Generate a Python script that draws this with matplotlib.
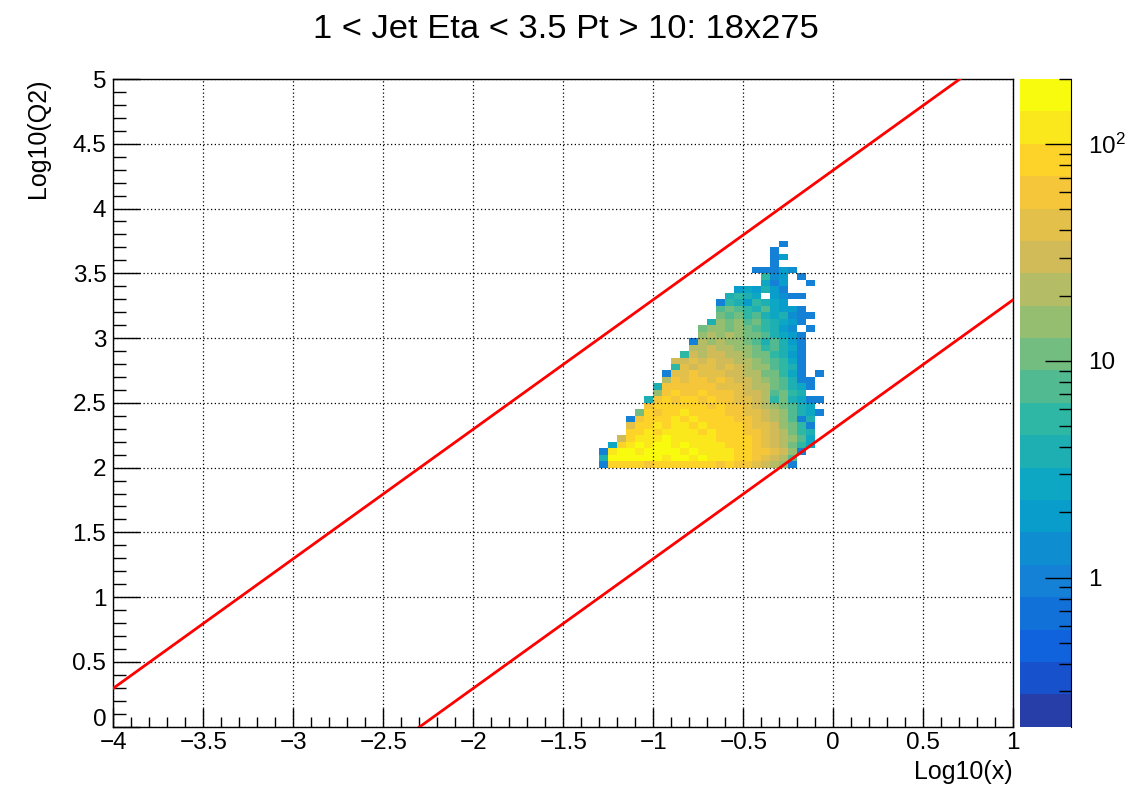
import numpy as np
import matplotlib
matplotlib.use('Agg')
import matplotlib.pyplot as plt
from matplotlib.colors import ListedColormap, LinearSegmentedColormap, LogNorm
from matplotlib.ticker import MultipleLocator, FuncFormatter, LogLocator, NullFormatter, FixedLocator

plt.rcParams['font.family'] = ['Liberation Sans', 'DejaVu Sans']
plt.rcParams['mathtext.default'] = 'regular'

# beam energies (GeV) and inelasticity limits drawn as red lines
e_electron = 18
e_proton = 275
y_limits = [1.0, 0.01]

# histogram binning: log10(x) vs log10(Q2)
x_lo, x_hi, nx = -4.0, 1.0, 100
q_lo, q_hi, nq = 0.0, 5.0, 100

# filled block starts at log10(x) = -1.3 (bin 54), log10(Q2) = 2.0 (bin 40)
first_col = 54
first_row = 40

# z range of the colour axis and number of contour bands
z_min, z_max = 0.205, 200.0
n_bands = 20

# band index per bin, top row first ('.' = empty, 0-9 a-j = band 0..19)
band_rows = [
    "....................4....",
    "...................4.....",
    "...................46....",
    "...................4.....",
    ".................44465...",
    "..................956.4..",
    "..................746..4.",
    "...............676864....",
    "..............8987.6544..",
    ".............49869876....",
    ".............aba98a7664..",
    ".............bab9a878544.",
    "............8cbcab98764..",
    "...........bccbcba9865.4.",
    "...........cdcdcbba8764..",
    "..........4dcdccba8a864..",
    "..........ddeddccb9a874..",
    ".........9edeeddcbb9864..",
    "........eefefeeddcba974..",
    "........9feffefedcca984..",
    ".......4ffgfffeeddbb974.4",
    ".......dgfggfgfeedcba844.",
    "......8ggggggfffeddba874.",
    "......cghgghgggfeedab98..",
    ".....8ghghhghggffed9b8744",
    ".....ghhhhhhghggfedcba87.",
    "....bhghhihhhhggffedca874",
    "...4ghhhihihhhhggfedca48.",
    "...fhhihiihihhhhgffecb94.",
    "...hhihiiiihihhhggfedb98.",
    "..ehiiijiiiiihhhhgfedca7.",
    ".7hijijjijiiiihhhgfedb97.",
    "4ijjijjjjijiiiihhggfec4..",
    "8jjjjjjijjijiiihhgfeda...",
    "4hhhhghhhhhhhghggfedc4...",
]

title = "1 < Jet Eta < 3.5 Pt > 10: 18x275"
x_title = "Log10(x)"
y_title = "Log10(Q2)"

# ROOT kBird palette
stops = [0.0, 0.125, 0.25, 0.375, 0.5, 0.625, 0.75, 0.875, 1.0]
red = [0.2082, 0.0592, 0.0780, 0.0232, 0.1802, 0.5301, 0.8186, 0.9956, 0.9764]
green = [0.1664, 0.3599, 0.5041, 0.6419, 0.7178, 0.7492, 0.7328, 0.7862, 0.9832]
blue = [0.5293, 0.8684, 0.8385, 0.7914, 0.6425, 0.4662, 0.3499, 0.1968, 0.0539]
bird = LinearSegmentedColormap.from_list('bird', list(zip(stops, zip(red, green, blue))), N=255)
band_colors = [bird(int((k + 0.99) * 255 / n_bands) / 254) for k in range(n_bands)]
cmap = ListedColormap(band_colors)

# decode the band strings into bin contents
codes = "0123456789abcdefghij"
counts = np.full((nq, nx), np.nan)
for i, row in enumerate(band_rows[::-1]):
    for j, ch in enumerate(row):
        if ch == '.':
            continue
        k = codes.index(ch)
        counts[first_row + i, first_col + j] = z_min * (z_max / z_min) ** ((k + 0.5) / n_bands)
counts = np.ma.masked_invalid(counts)

xedges = np.linspace(x_lo, x_hi, nx + 1)
qedges = np.linspace(q_lo, q_hi, nq + 1)

W, H = 1147, 786
fig = plt.figure(figsize=(W / 100, H / 100), dpi=100)
ax = fig.add_axes([113.3 / W, 1 - 726.7 / H, 900 / W, 647.7 / H])
cax = fig.add_axes([1019.5 / W, 1 - 726.7 / H, 51.5 / W, 647.7 / H])

norm = LogNorm(vmin=z_min, vmax=z_max)
mesh = ax.pcolormesh(xedges, qedges, counts, cmap=cmap, norm=norm,
                     edgecolors='none', antialiased=False, zorder=1)

# kinematic limits: log10(Q2) = log10(x) + log10(s*y)
s = 4 * e_electron * e_proton
xl = np.array([x_lo, x_hi])
for yl in y_limits:
    ax.plot(xl, xl + np.log10(s * yl), color='red', lw=2.0, zorder=3)

ax.set_xlim(x_lo, x_hi)
ax.set_ylim(q_lo, q_hi)


def fmt(v, pos):
    return ('%g' % round(v, 3)).replace('-', '\u2212')


def fmt_q(v, pos):
    # the "0" of the y axis is written separately, just above the corner
    if abs(v - q_lo) < 1e-9:
        return ''
    return fmt(v, pos)


ax.xaxis.set_major_locator(MultipleLocator(0.5))
ax.xaxis.set_minor_locator(MultipleLocator(0.1))
ax.yaxis.set_major_locator(MultipleLocator(0.5))
ax.yaxis.set_minor_locator(MultipleLocator(0.1))
ax.xaxis.set_major_formatter(FuncFormatter(fmt))
ax.yaxis.set_major_formatter(FuncFormatter(fmt_q))
ax.tick_params(axis='x', which='major', direction='in', length=14, width=1, labelsize=17.5, pad=4)
ax.tick_params(axis='x', which='minor', direction='in', length=7, width=1)
ax.tick_params(axis='y', which='major', direction='in', length=19.5, width=1, labelsize=17.5, pad=5)
ax.tick_params(axis='y', which='minor', direction='in', length=9, width=1)
ax.grid(True, which='major', color='black', linestyle=(0, (1, 2)), linewidth=0.9)
for sp in ax.spines.values():
    sp.set_linewidth(1.0)

fig.text(106.5 / W, 1 - 726 / H, fmt(q_lo, 0), ha='right', va='baseline', fontsize=17.5)

# colour axis
cb = fig.colorbar(mesh, cax=cax)
cb.outline.set_visible(False)
cax.spines['right'].set_visible(True)
cax.yaxis.set_major_locator(FixedLocator([1, 10, 100]))
cax.yaxis.set_minor_locator(LogLocator(base=10, subs=range(2, 10)))
cax.yaxis.set_minor_formatter(NullFormatter())
cax.set_yticklabels(['1', '10', '10$^{2}$'])
cax.tick_params(which='major', direction='in', length=19, width=1, labelsize=17.5, pad=12)
cax.tick_params(which='minor', direction='in', length=9, width=1)

fig.text(565.5 / W, 1 - 38 / H, title, ha='center', va='baseline', fontsize=24.8)
fig.text(1013 / W, 1 - 779 / H, x_title, ha='right', va='baseline', fontsize=18)
fig.text(37.5 / W, 1 - 79 / H, y_title, ha='center', va='top', rotation=90, fontsize=18)

fig.savefig('out.png', dpi=100)
